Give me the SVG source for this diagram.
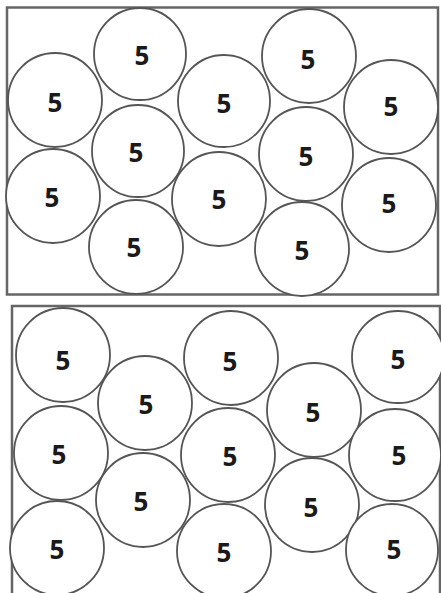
<svg xmlns="http://www.w3.org/2000/svg" width="441" height="593" viewBox="0 0 441 593">
<style>
.box{fill:none;stroke:#666;stroke-width:2.5}
.c{fill:#fff;stroke:#555;stroke-width:1.8}
.t{font-family:"Open Sans","DejaVu Sans",sans-serif;font-weight:bold;font-size:26px;fill:#1a1a1a;text-anchor:middle;dominant-baseline:central}
</style>
<rect width="441" height="593" fill="#fff"/>
<g id="top-box">
<rect class="box" x="7" y="7.5" width="431" height="287"/>
</g>
<g id="top-circles">
<g id="t1"><circle class="c" cx="55" cy="100" r="47"/><text class="t" x="55" y="102">5</text></g>
<g id="t2"><circle class="c" cx="140" cy="54" r="46"/><text class="t" x="142" y="55">5</text></g>
<g id="t3"><circle class="c" cx="138" cy="151" r="46"/><text class="t" x="136" y="152">5</text></g>
<g id="t4"><circle class="c" cx="53" cy="196" r="47"/><text class="t" x="52" y="197">5</text></g>
<g id="t5"><circle class="c" cx="136" cy="247" r="47"/><text class="t" x="134" y="247">5</text></g>
<g id="t6"><circle class="c" cx="224" cy="101" r="46"/><text class="t" x="224" y="103">5</text></g>
<g id="t7"><circle class="c" cx="219" cy="199" r="47"/><text class="t" x="219" y="199">5</text></g>
<g id="t8"><circle class="c" cx="309" cy="56" r="47"/><text class="t" x="308" y="59">5</text></g>
<g id="t9"><circle class="c" cx="306" cy="154" r="47"/><text class="t" x="306" y="156">5</text></g>
<g id="t10"><circle class="c" cx="302" cy="249" r="47"/><text class="t" x="302" y="250">5</text></g>
<g id="t11"><circle class="c" cx="391" cy="107" r="47"/><text class="t" x="391" y="106">5</text></g>
<g id="t12"><circle class="c" cx="389" cy="205" r="47"/><text class="t" x="389" y="203">5</text></g>
</g>
<g id="bottom-box">
<rect class="box" x="12" y="306" width="428" height="290"/>
</g>
<g id="bottom-circles">
<g id="b1"><circle class="c" cx="63" cy="355" r="47"/><text class="t" x="63" y="360">5</text></g>
<g id="b2"><circle class="c" cx="145" cy="403" r="47"/><text class="t" x="146" y="404">5</text></g>
<g id="b3"><circle class="c" cx="61" cy="453" r="47"/><text class="t" x="59" y="454">5</text></g>
<g id="b4"><circle class="c" cx="143" cy="500" r="47"/><text class="t" x="141" y="501">5</text></g>
<g id="b5"><circle class="c" cx="57" cy="548" r="47"/><text class="t" x="57" y="549">5</text></g>
<g id="b6"><circle class="c" cx="231" cy="358" r="47"/><text class="t" x="230" y="361">5</text></g>
<g id="b7"><circle class="c" cx="314" cy="410" r="47"/><text class="t" x="313" y="412">5</text></g>
<g id="b8"><circle class="c" cx="228" cy="455" r="47"/><text class="t" x="230" y="456">5</text></g>
<g id="b9"><circle class="c" cx="312" cy="505" r="47"/><text class="t" x="311" y="507">5</text></g>
<g id="b10"><circle class="c" cx="224" cy="551" r="47"/><text class="t" x="224" y="552">5</text></g>
<g id="b11"><circle class="c" cx="398" cy="357" r="46"/><text class="t" x="398" y="359">5</text></g>
<g id="b12"><circle class="c" cx="395" cy="455" r="46"/><text class="t" x="399" y="455">5</text></g>
<g id="b13"><circle class="c" cx="392" cy="550" r="46"/><text class="t" x="394" y="549">5</text></g>
</g>
</svg>
